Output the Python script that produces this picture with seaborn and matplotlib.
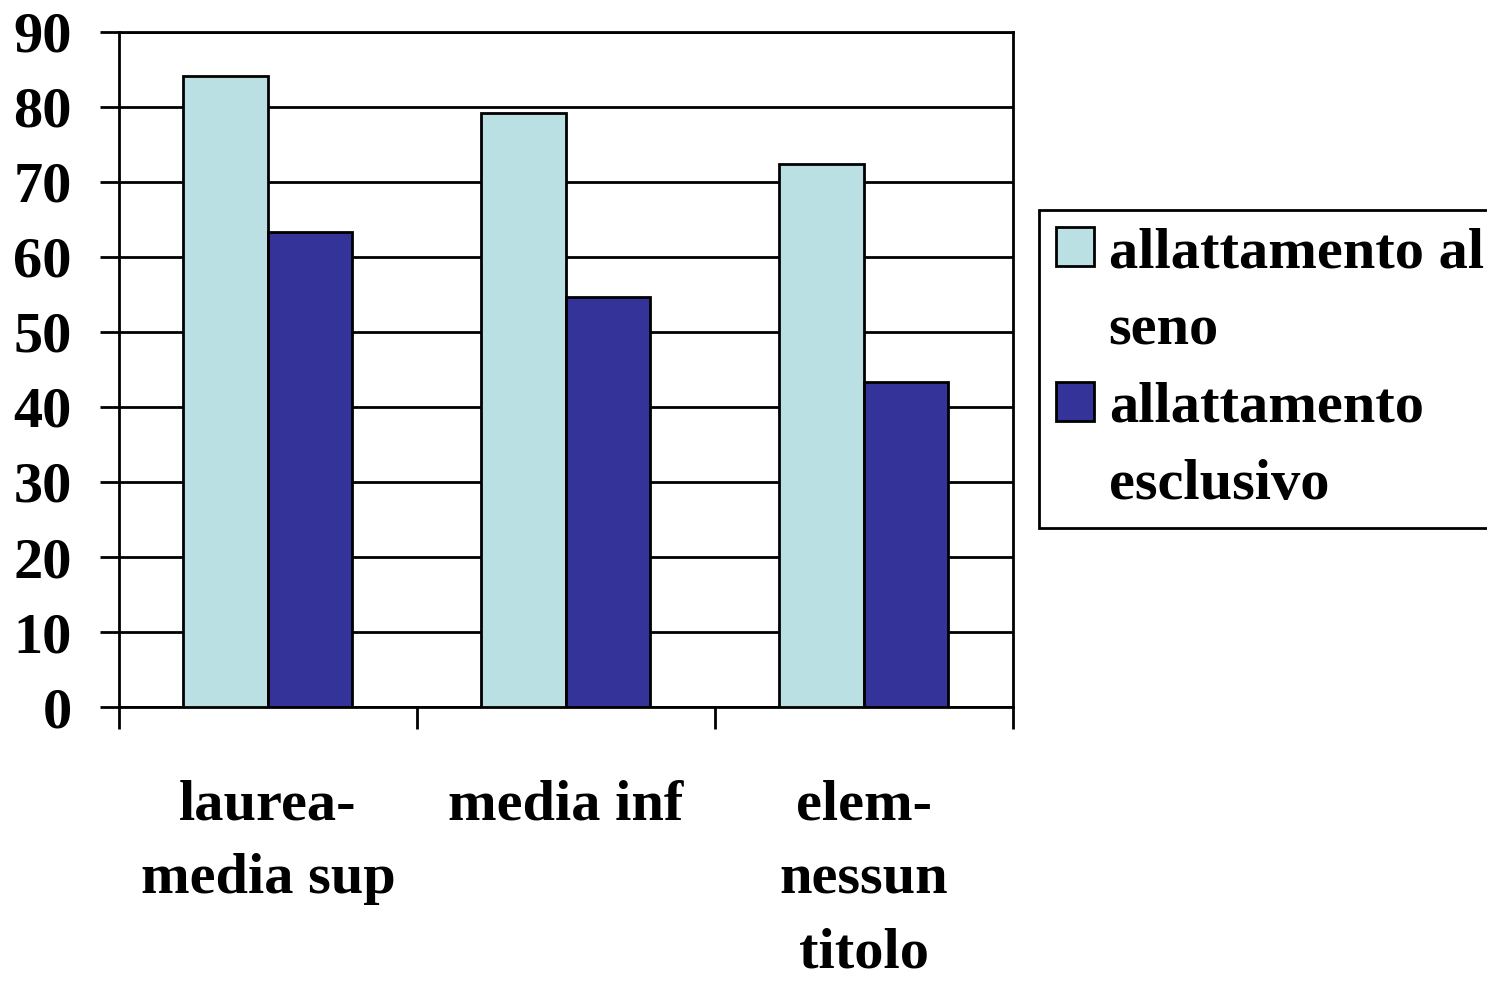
import pandas as pd
import matplotlib.pyplot as plt
import seaborn as sns

# Data
categories = ['laurea-\nmedia sup', 'media inf', 'elem-\nnessun\ntitolo']
series_names = ['allattamento al\nseno', 'allattamento\nesclusivo']
breastfeeding = [84.1, 79.2, 72.4]
exclusive = [63.3, 54.7, 43.3]
y_ticks = list(range(0, 100, 10))

colors = ['#BBE0E3', '#333399']

df = pd.DataFrame({
    'categoria': categories * 2,
    'serie': [series_names[0]] * 3 + [series_names[1]] * 3,
    'valore': breastfeeding + exclusive,
})

sns.set_style('white', {'xtick.bottom': True, 'ytick.left': True,
                        'text.color': 'black', 'xtick.color': 'black',
                        'ytick.color': 'black', 'axes.labelcolor': 'black'})
plt.rcParams['font.family'] = ['Liberation Serif', 'DejaVu Serif']
plt.rcParams['font.weight'] = 'bold'

FS = 42

fig = plt.figure(figsize=(14.87, 9.81), dpi=100)
ax = fig.add_axes([0.080, 0.2793, 0.601, 0.6881])

sns.barplot(data=df, x='categoria', y='valore', hue='serie', palette=colors,
            width=0.567, edgecolor='black', linewidth=2, saturation=1,
            ax=ax, zorder=3)

ax.set_ylim(0, 90)
ax.set_xlim(-0.5, 2.5)
ax.set_yticks(y_ticks)
ax.set_yticklabels([str(t) for t in y_ticks], fontsize=FS, fontweight='bold')
ax.yaxis.grid(True, color='black', linewidth=2, zorder=0)
ax.set_axisbelow(True)
ax.set_xlabel('')
ax.set_ylabel('')

# category labels centred, tick marks on the boundaries
ax.set_xticks([0, 1, 2])
ax.set_xticklabels(categories, fontsize=FS, fontweight='bold', linespacing=1.55)
ax.tick_params(axis='x', which='major', length=0, pad=52)
ax.set_xticks([-0.5, 0.5, 1.5, 2.5], minor=True)
ax.tick_params(axis='x', which='minor', bottom=True, length=16, width=2,
               color='black', direction='out')
ax.tick_params(axis='y', which='major', left=True, length=14, width=2,
               color='black', direction='out', pad=20)

for s in ax.spines.values():
    s.set_color('black')
    s.set_linewidth(2)

# legend: one row per text line, the swatch sits next to the first line
ax.legend_.remove()
handles, labels = [], []
for c, name in zip(colors, series_names):
    lines = name.split('\n')
    handles.append(plt.Rectangle((0, 0), 1, 1, facecolor=c, edgecolor='black', linewidth=2))
    labels.append(lines[0])
    for extra in lines[1:]:
        handles.append(plt.Rectangle((0, 0), 1, 1, facecolor='none', edgecolor='none'))
        labels.append(extra)

leg = fig.legend(handles, labels, loc='upper left', bbox_to_anchor=(0.6985, 0.786),
                 prop={'family': 'Liberation Serif', 'weight': 'bold', 'size': FS},
                 frameon=True, fancybox=False, edgecolor='black', framealpha=1,
                 handlelength=0.65, handleheight=0.65, handletextpad=0.25,
                 labelspacing=0.43, borderpad=0.3, borderaxespad=0)
leg.get_frame().set_linewidth(2)

fig.savefig('out.png', dpi=100)
